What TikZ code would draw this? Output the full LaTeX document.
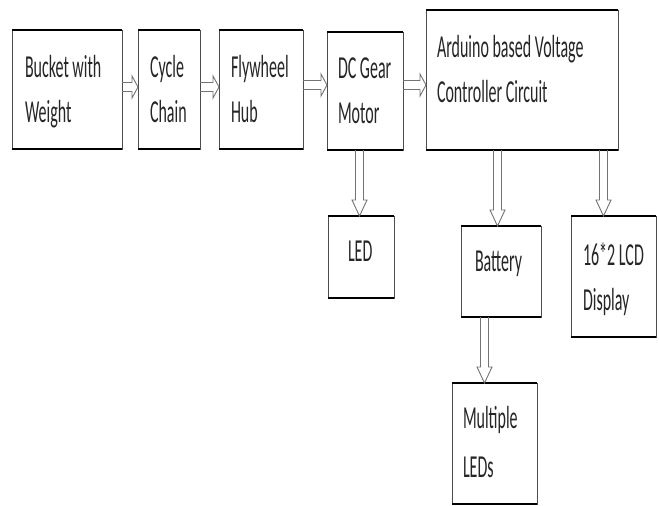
\documentclass[tikz,border=0pt]{standalone}
\usepackage{fontspec}
\newfontfamily\lblfont[FakeStretch=0.5]{Carlito}
\usetikzlibrary{calc}
\tikzset{
  box/.style={draw=black!70, line width=1pt, fill=none, inner sep=0pt, outer sep=0pt, anchor=north west},
  hedge/.style={draw=black, line width=2pt},
  txt/.style={font=\lblfont\fontsize{32}{45}\selectfont, text=black!85, inner sep=0pt, outer sep=0pt, align=left, anchor=base west},
  arr/.style={draw=black!55, line width=0.9pt, line join=miter}
}
\newcommand\harr[3]{%
  \draw[arr] let \p1=(#1.east), \p2=(#2.west) in
    (\x1,#3-4.5) -- (\x2-6pt,#3-4.5) -- (\x2-6pt,#3-11) -- (\x2,#3)
    -- (\x2-6pt,#3+11) -- (\x2-6pt,#3+4.5) -- (\x1,#3+4.5);}
\newcommand\varr[3]{%
  \draw[arr] let \p1=(#1.south), \p2=(#2.north) in
    (#3-4,\y1) -- (#3-4,\y2+16pt) -- (#3-7.5,\y2+16pt) -- (#3,\y2)
    -- (#3+7.5,\y2+16pt) -- (#3+4,\y2+16pt) -- (#3+4,\y1);}
\begin{document}
\begin{tikzpicture}[x=1pt,y=-1pt]
\useasboundingbox[fill=white] (0,0) rectangle (659,506);
% boxes
\node[box, minimum width=110pt, minimum height=119pt] (bucket) at (12,30) {};
\node[box, minimum width=62pt,  minimum height=119pt] (cycle)  at (138,30) {};
\node[box, minimum width=84pt,  minimum height=119pt] (fly)    at (219,30) {};
\node[box, minimum width=76pt,  minimum height=118pt] (dc)     at (327,32) {};
\node[box, minimum width=192pt, minimum height=140pt] (ard)    at (426,10) {};
\node[box, minimum width=66pt,  minimum height=82pt]  (led)    at (328,216) {};
\node[box, minimum width=80pt,  minimum height=91pt]  (bat)    at (461,226) {};
\node[box, minimum width=85pt,  minimum height=121pt] (lcd)    at (571,216) {};
\node[box, minimum width=85pt,  minimum height=121pt] (mult)   at (452,383) {};
\foreach \n in {bucket,cycle,fly,dc,ard,led,bat,lcd,mult}{
  \draw[hedge] (\n.north west) -- (\n.north east) (\n.south west) -- (\n.south east);
}
% texts (base anchor = baseline of last line)
\node[txt] (bucketT) at (25,122)  {Bucket with\\Weight};
\node[txt] (cycleT)  at (150,122) {Cycle\\Chain};
\node[txt] (flyT)    at (231,122) {Flywheel\\Hub};
\node[txt] (dcT)     at (338,123) {DC Gear\\Motor};
\node[txt] (ardT)    at (437,102) {Arduino based Voltage\\Controller Circuit};
\node[txt] (ledT)    at (348,261) {LED};
\node[txt] (batT)    at (475,271) {Battery};
\node[txt] (lcdT)    at (583,310) {16*2 LCD\\Display};
\node[txt] (multT)   at (463,477) {Multiple\\[4pt]LEDs};
% arrows
\harr{bucket}{cycle}{87}
\harr{cycle}{fly}{87}
\harr{fly}{dc}{85}
\harr{dc}{ard}{85}
\varr{dc}{led}{359.5}
\varr{ard}{bat}{497.5}
\varr{ard}{lcd}{603.5}
\varr{bat}{mult}{484.5}
\end{tikzpicture}
\end{document}
